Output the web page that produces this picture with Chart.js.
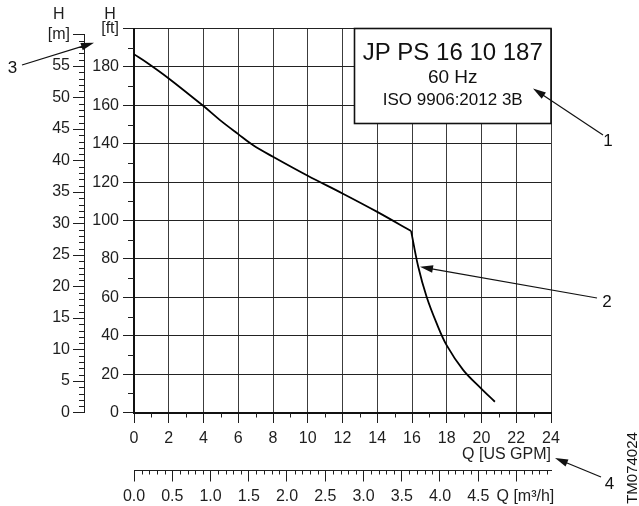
<!DOCTYPE html>
<html>
<head>
<meta charset="utf-8">
<script src="https://cdn.jsdelivr.net/npm/chart.js@4/dist/chart.umd.min.js"></script>
<style>
  html, body { margin: 0; padding: 0; background: #fff; }
</style>
</head>
<body>
<canvas id="curve" width="639" height="506"></canvas>
<script>
// pump curve (Q in US GPM, H in ft)
const flowUpper = [0, 0.73, 2, 4, 4.95, 6, 6.86, 8, 10, 12, 14, 15.95];
const headUpper = [186.6, 182.3, 174, 159.6, 152.3, 145, 139.2, 133.2, 123.3, 114.1, 104.5, 94.5];
const flowLower = [15.95, 16.36, 16.84, 17.42, 17.99, 18.95, 19.97, 20.77];
const headLower = [94.5, 75.9, 60.3, 46.4, 35.1, 22.1, 12.6, 5.6];

// axis texts
const ftUnit = '[ft]';
const mUnit = '[m]';
const headLetter = 'H';
const gpmTitle = 'Q [US GPM]';
const m3hTitle = '\u00a0\u00a0\u00a0\u00a0Q [m\u00b3/h]';
const modelLines = ['JP PS 16 10 187', '60 Hz', 'ISO 9906:2012 3B'];
const callouts = ['1', '2', '3', '4'];
const drawingNo = 'TM074024';

const FT_PER_M = 3.28084;
const GPM_PER_M3H = 4.40287;

const FONT = '"Liberation Sans", Arial, sans-serif';
const tickFont = { family: FONT, size: 16, lineHeight: 1.2 };
const ink = '#1e1e1e';

function toPoints(xs, ys) {
    return xs.map((x, i) => ({ x: x, y: ys[i] }));
}

function arrow(ctx, x1, y1, x2, y2) {
    const a = Math.atan2(y2 - y1, x2 - x1);
    const len = 13, half = 3.8;
    const c = Math.cos(a), s = Math.sin(a);
    ctx.beginPath();
    ctx.moveTo(x1, y1);
    ctx.lineTo(x2 - len * c * 0.7, y2 - len * s * 0.7);
    ctx.stroke();
    ctx.beginPath();
    ctx.moveTo(x2, y2);
    ctx.lineTo(x2 - len * c + half * s, y2 - len * s - half * c);
    ctx.lineTo(x2 - len * c - half * s, y2 - len * s + half * c);
    ctx.closePath();
    ctx.fill();
}

// minor ticks, second axis line, model box and callouts
const extras = {
    id: 'extras',
    afterDraw(chart) {
        const ctx = chart.ctx;
        const { x, y, xM, yM } = chart.scales;
        const area = chart.chartArea;
        ctx.save();
        ctx.strokeStyle = ink;
        ctx.fillStyle = ink;
        ctx.lineWidth = 1;

        // minor ticks
        ctx.beginPath();
        for (let q = 1; q < 24; q += 2) {
            const px = Math.round(x.getPixelForValue(q)) + 0.5;
            ctx.moveTo(px, x.top); ctx.lineTo(px, x.top + 5);
        }
        for (let h = 10; h < 200; h += 20) {
            const py = Math.round(y.getPixelForValue(h)) + 0.5;
            ctx.moveTo(y.right - 6, py); ctx.lineTo(y.right, py);
        }
        for (let m = 1; m < 60; m++) {
            if (m % 5 === 0) continue;
            const py = Math.round(yM.getPixelForValue(m)) + 0.5;
            ctx.moveTo(yM.right - 6, py); ctx.lineTo(yM.right, py);
        }
        for (let k = 1; k < 55; k++) {
            if (k % 5 === 0) continue;
            const px = Math.round(xM.getPixelForValue(k / 10)) + 0.5;
            ctx.moveTo(px, xM.top); ctx.lineTo(px, xM.top + 4);
        }
        ctx.stroke();

        // metre axis line, 0..60 m
        ctx.beginPath();
        ctx.moveTo(yM.right - 0.5, yM.getPixelForValue(60));
        ctx.lineTo(yM.right - 0.5, yM.getPixelForValue(0));
        ctx.stroke();

        // H over the unit labels
        ctx.font = '16px ' + FONT;
        ctx.textAlign = 'center';
        ctx.textBaseline = 'middle';
        const mx = yM.right - 12 - 3 - ctx.measureText(mUnit).width / 2;
        const fx = y.right - 11 - 4 - ctx.measureText(ftUnit).width / 2;
        ctx.fillText(headLetter, mx, 15);
        ctx.fillText(headLetter, fx, 15);

        // model box
        const bw = 196.5, bh = 95;
        const bx = area.right - bw, by = area.top;
        ctx.fillStyle = '#fff';
        ctx.fillRect(bx, by, bw, bh);
        ctx.lineWidth = 1.6;
        ctx.strokeStyle = '#111';
        ctx.strokeRect(bx, by, bw, bh);
        ctx.fillStyle = '#111';
        ctx.font = '24px ' + FONT;
        ctx.fillText(modelLines[0], bx + bw / 2, by + 25);
        ctx.font = '19px ' + FONT;
        ctx.fillText(modelLines[1], bx + bw / 2, by + 49);
        ctx.font = '17px ' + FONT;
        ctx.fillText(modelLines[2], bx + bw / 2, by + 72);

        // callout arrows
        ctx.lineWidth = 1.2;
        ctx.strokeStyle = '#111';
        arrow(ctx, 603, 135, 533, 88.5);
        arrow(ctx, 597, 298, x.getPixelForValue(16.46), y.getPixelForValue(75.9));
        arrow(ctx, 22, 65, 94, 42.7);
        arrow(ctx, 601, 477, 555, 458);

        ctx.font = '17px ' + FONT;
        ctx.fillText(callouts[0], 608, 141);
        ctx.fillText(callouts[1], 607, 302);
        ctx.fillText(callouts[2], 12.5, 68.5);
        ctx.fillText(callouts[3], 609.5, 484);

        // drawing number, rotated
        ctx.translate(632.5, 468);
        ctx.rotate(-Math.PI / 2);
        ctx.font = '15px ' + FONT;
        ctx.fillText(drawingNo, 0, 0);
        ctx.restore();
    }
};

const curveStyle = {
    showLine: true,
    borderColor: '#000',
    borderWidth: 1.8,
    pointRadius: 0,
    tension: 0.35,
    xAxisID: 'x',
    yAxisID: 'y'
};

new Chart(document.getElementById('curve').getContext('2d'), {
    type: 'scatter',
    data: {
        datasets: [
            Object.assign({ label: 'H upper', data: toPoints(flowUpper, headUpper) }, curveStyle),
            Object.assign({ label: 'H lower', data: toPoints(flowLower, headLower) }, curveStyle)
        ]
    },
    options: {
        responsive: false,
        animation: false,
        events: [],
        layout: { padding: { left: 0, right: 88, top: 28.5, bottom: 0 } },
        plugins: { legend: { display: false }, tooltip: { enabled: false } },
        scales: {
            x: {
                type: 'linear', position: 'bottom', min: 0, max: 24, weight: 0,
                ticks: { stepSize: 2, padding: 6, color: ink, font: tickFont, maxRotation: 0, autoSkip: false },
                grid: { color: '#3c3c3c', lineWidth: 1, tickLength: 10.5, tickColor: ink },
                border: { color: '#111', width: 2 },
                title: { display: true, text: gpmTitle, align: 'end', color: ink, font: tickFont, padding: { top: 0, bottom: 6 } },
                afterFit: s => { s.height = 58; }
            },
            xM: {
                type: 'linear', position: 'bottom', min: 0, max: 24 / GPM_PER_M3H, weight: 1,
                ticks: {
                    stepSize: 0.5, includeBounds: false, padding: 5, color: ink, font: tickFont,
                    maxRotation: 0, autoSkip: false,
                    callback: v => Math.abs(v - 5) < 1e-6 ? m3hTitle : v.toFixed(1)
                },
                grid: { drawOnChartArea: false, tickLength: 11, color: ink },
                border: { color: ink, width: 1 },
                afterFit: s => { s.height = 35.5; }
            },
            y: {
                type: 'linear', position: 'left', min: 0, max: 200, weight: 0,
                ticks: { stepSize: 20, padding: 4, color: ink, font: tickFont, callback: v => v === 200 ? ftUnit : v },
                grid: { color: '#222', lineWidth: 1, tickLength: 11, tickColor: ink },
                border: { color: '#111', width: 2 },
                afterFit: s => { s.width = 49; }
            },
            yM: {
                type: 'linear', position: 'left', min: 0, max: 200 / FT_PER_M, weight: 1,
                ticks: {
                    stepSize: 5, includeBounds: false, padding: 3, color: ink, font: tickFont,
                    callback: v => v === 60 ? mUnit : v
                },
                grid: { drawOnChartArea: false, tickLength: 12, color: ink },
                border: { display: false },
                afterFit: s => { s.width = 85; }
            }
        }
    },
    plugins: [extras]
});
</script>
</body>
</html>
